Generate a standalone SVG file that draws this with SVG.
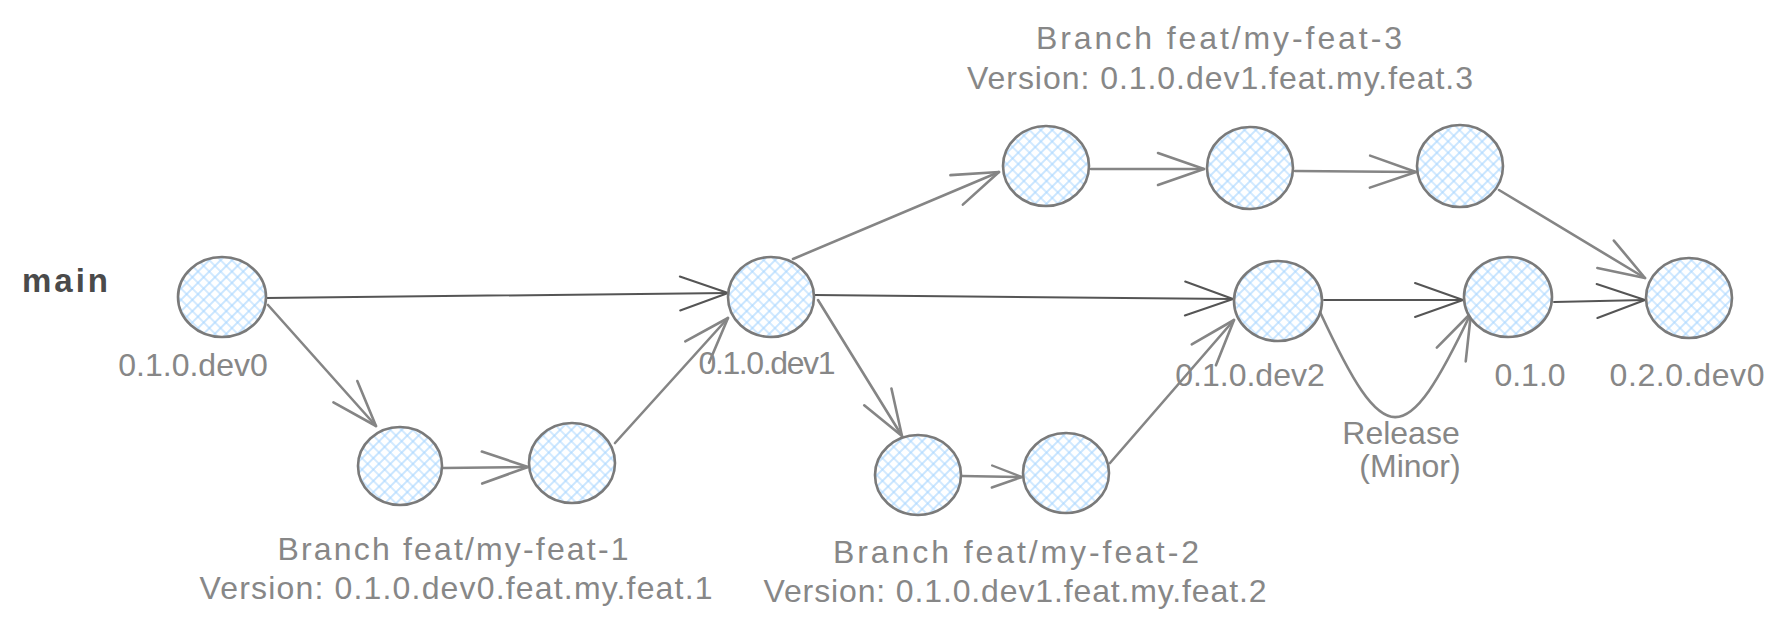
<svg xmlns="http://www.w3.org/2000/svg" width="1788" height="633" viewBox="0 0 1788 633">
<style>
.node{fill:url(#hatch);stroke:#7a7a7a;stroke-width:2.6}
.lbl{font-family:"Liberation Sans",Arial,sans-serif;font-size:32px;fill:#878787;text-anchor:middle}
.main{font-family:"Liberation Sans",Arial,sans-serif;font-size:33px;font-weight:bold;fill:#4a4a4a}
.c{fill:none;stroke:#858585;stroke-width:2.6;stroke-linecap:round}
.cd{fill:none;stroke:#555555;stroke-width:2;stroke-linecap:round}
</style>
<defs>
<pattern id="hatch" width="8" height="8" patternUnits="userSpaceOnUse" patternTransform="rotate(45)">
<rect width="8" height="8" fill="#ffffff"/>
<path d="M0 4H8M4 0V8" stroke="#a8d6ff" stroke-width="1.2"/>
</pattern>
<marker id="ahg" markerUnits="userSpaceOnUse" markerWidth="60" markerHeight="40" viewBox="-55 -20 60 40" refX="0" refY="0" orient="auto" overflow="visible">
<path d="M-46,-16 L0,0 L-46,16" fill="none" stroke="#858585" stroke-width="2.6" stroke-linecap="round" stroke-linejoin="round"/>
</marker>
<marker id="ahgs" markerUnits="userSpaceOnUse" markerWidth="60" markerHeight="40" viewBox="-55 -20 60 40" refX="0" refY="0" orient="auto" overflow="visible">
<path d="M-30,-11 L0,0 L-30,11" fill="none" stroke="#858585" stroke-width="2.4" stroke-linecap="round" stroke-linejoin="round"/>
</marker>
<marker id="ahd" markerUnits="userSpaceOnUse" markerWidth="60" markerHeight="40" viewBox="-55 -20 60 40" refX="0" refY="0" orient="auto" overflow="visible">
<path d="M-48,-17 L0,0 L-48,17" fill="none" stroke="#555555" stroke-width="2" stroke-linecap="round" stroke-linejoin="round"/>
</marker>
</defs>
<rect width="1788" height="633" fill="#ffffff"/>

<g id="connectors">
<path class="cd" d="M266,298 L728,293" marker-end="url(#ahd)"/>
<path class="c" d="M268,305 L376,426" marker-end="url(#ahg)"/>
<path class="c" d="M443,468 L528,467" marker-end="url(#ahg)"/>
<path class="c" d="M615,443 L728,318" marker-end="url(#ahg)"/>
<path class="c" d="M793,259 L999,172" marker-end="url(#ahg)"/>
<path class="cd" d="M814,295 L1233,299" marker-end="url(#ahd)"/>
<path class="c" d="M818,300 L902,436" marker-end="url(#ahg)"/>
<path class="c" d="M962,476 L1022,477" marker-end="url(#ahgs)"/>
<path class="c" d="M1110,463 L1234,320" marker-end="url(#ahg)"/>
<path class="c" d="M1091,169 L1204,169" marker-end="url(#ahg)"/>
<path class="c" d="M1295,171 L1416,172" marker-end="url(#ahg)"/>
<path class="c" d="M1499,190 L1645,278" marker-end="url(#ahg)"/>
<path class="cd" d="M1324,300 L1463,300" marker-end="url(#ahd)"/>
<path class="c" d="M1320,312 C1385,452 1405,452 1471,313" marker-end="url(#ahg)"/>
<path class="cd" d="M1554,302 L1645,300" marker-end="url(#ahd)"/>
</g>

<g id="n0"><ellipse class="node" cx="222" cy="297" rx="44" ry="40"/><text class="lbl" x="193" y="376">0.1.0.dev0</text></g>
<g id="n1"><ellipse class="node" cx="400" cy="466" rx="42" ry="39"/></g>
<g id="n2"><ellipse class="node" cx="572" cy="463" rx="43" ry="40"/></g>
<g id="n3"><ellipse class="node" cx="771" cy="297" rx="43" ry="40"/><text class="lbl" x="767" y="374" textLength="137">0.1.0.dev1</text></g>
<g id="n4"><ellipse class="node" cx="918" cy="475" rx="43" ry="40"/></g>
<g id="n5"><ellipse class="node" cx="1066" cy="473" rx="43" ry="40"/></g>
<g id="n6"><ellipse class="node" cx="1046" cy="166" rx="43" ry="40"/></g>
<g id="n7"><ellipse class="node" cx="1250" cy="168" rx="43" ry="41"/></g>
<g id="n8"><ellipse class="node" cx="1460" cy="166" rx="43" ry="41"/></g>
<g id="n9"><ellipse class="node" cx="1278" cy="301" rx="44" ry="40"/><text class="lbl" x="1250" y="386">0.1.0.dev2</text></g>
<g id="n10"><ellipse class="node" cx="1508" cy="297" rx="44" ry="40"/><text class="lbl" x="1530" y="386">0.1.0</text></g>
<g id="n11"><ellipse class="node" cx="1689" cy="298" rx="43" ry="40"/><text class="lbl" x="1687" y="386" textLength="155">0.2.0.dev0</text></g>

<g id="labels">
<text class="main" x="22" y="292" textLength="86">main</text>
<text class="lbl" x="453" y="560" textLength="351">Branch feat/my-feat-1</text>
<text class="lbl" x="456" y="599" textLength="513">Version: 0.1.0.dev0.feat.my.feat.1</text>
<text class="lbl" x="1016" y="563" textLength="366">Branch feat/my-feat-2</text>
<text class="lbl" x="1015" y="602" textLength="503">Version: 0.1.0.dev1.feat.my.feat.2</text>
<text class="lbl" x="1219" y="49" textLength="366">Branch feat/my-feat-3</text>
<text class="lbl" x="1220" y="89" textLength="506">Version: 0.1.0.dev1.feat.my.feat.3</text>
<text class="lbl" x="1401" y="444">Release</text>
<text class="lbl" x="1410" y="477">(Minor)</text>
</g>
</svg>
